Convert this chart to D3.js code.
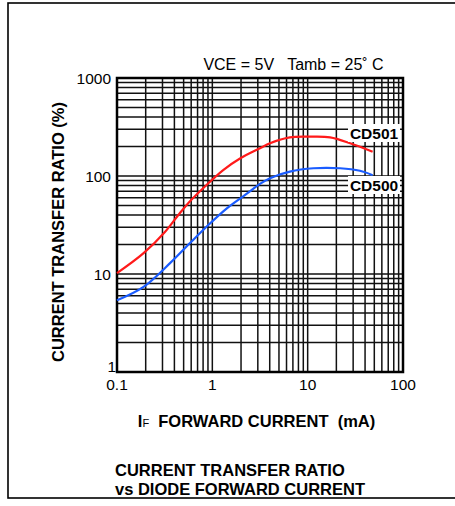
<!DOCTYPE html>
<html>
<head>
<meta charset="utf-8">
<script src="https://cdn.jsdelivr.net/npm/d3@7"></script>
<style>
  body { margin: 0; background: white; }
  text { font-family: "Liberation Sans", Arial, sans-serif; fill: black; }
</style>
</head>
<body>
<script>
// values
var cd501Current = [0.1, 0.19, 0.32, 0.44, 0.58, 0.87, 1.3, 1.95, 3.16, 4.03, 6.5, 10.6, 17.2, 27.9, 48];
var cd501Ratio   = [10.2, 16.3, 27, 40, 55, 81, 115, 151, 192, 216, 248, 252, 248, 216, 177];
var cd500Current = [0.1, 0.19, 0.36, 0.58, 0.87, 1.42, 2.3, 3.16, 4.03, 6.5, 11.5, 21.9, 35.3, 48];
var cd500Ratio   = [5.4, 7.4, 12.9, 20.6, 30.4, 46.8, 66, 83, 95, 111, 120, 120, 113, 102];
var xTicks = [0.1, 1, 10, 100];
var yTicks = [1, 10, 100, 1000];

var width = 455, height = 506;
// plot box (window.top is read-only, so no bare "top")
var plotL = 117, plotR = 403, plotT = 78, plotB = 372;

var svg = d3.select('body').append('svg').attr('width', width).attr('height', height);

// outer frame
svg.append('rect').attr('x', 8).attr('y', 3).attr('width', 460).attr('height', 495)
    .attr('fill', 'white').attr('stroke', 'black').attr('stroke-width', 1.6);

var x = d3.scaleLog().domain([0.1, 100]).range([plotL, plotR]);
var y = d3.scaleLog().domain([1, 1000]).range([plotB, plotT]);

// grid: 1..9 in every decade
function decadeLines(lo, hi) {
    var out = [];
    for (var d = lo; d < hi * 0.999; d *= 10) {
        for (var k = 1; k < 10; k++) out.push(d * k);
    }
    out.push(hi);
    return out;
}

var grid = svg.append('g').attr('stroke', '#111').attr('stroke-width', 1.5);
grid.selectAll('line.v').data(decadeLines(0.1, 100)).enter().append('line')
    .attr('class', 'v')
    .attr('x1', function (d) { return x(d); }).attr('x2', function (d) { return x(d); })
    .attr('y1', plotT).attr('y2', plotB);
grid.selectAll('line.h').data(decadeLines(1, 1000)).enter().append('line')
    .attr('class', 'h')
    .attr('y1', function (d) { return y(d); }).attr('y2', function (d) { return y(d); })
    .attr('x1', plotL).attr('x2', plotR);

svg.append('rect').attr('x', plotL).attr('y', plotT)
    .attr('width', plotR - plotL).attr('height', plotB - plotT)
    .attr('fill', 'none').attr('stroke', 'black').attr('stroke-width', 2.5);

// curves
var line = d3.line()
    .x(function (d) { return x(d[0]); })
    .y(function (d) { return y(d[1]); })
    .curve(d3.curveCatmullRom.alpha(0.5));

svg.append('path').datum(d3.zip(cd501Current, cd501Ratio))
    .attr('d', line).attr('fill', 'none').attr('stroke', '#ff1a1a').attr('stroke-width', 2.2);
svg.append('path').datum(d3.zip(cd500Current, cd500Ratio))
    .attr('d', line).attr('fill', 'none').attr('stroke', '#1a5cff').attr('stroke-width', 2.2);

// curve labels with white box behind
function curveLabel(txt, cx, cy) {
    svg.append('rect').attr('x', cx - 26).attr('y', cy - 9).attr('width', 52).attr('height', 18).attr('fill', 'white');
    svg.append('text').attr('x', cx).attr('y', cy).attr('dy', '0.36em')
        .attr('text-anchor', 'middle').attr('font-size', 15.5).attr('font-weight', 'bold').text(txt);
}
curveLabel('CD501', 374, 133);
curveLabel('CD500', 374, 185);

// tick labels
svg.selectAll('text.yt').data(yTicks).enter().append('text')
    .attr('class', 'yt')
    .attr('x', function (d) { return d == 1 ? 116 : 111; })
    .attr('y', function (d) { return d == 1 ? y(d) - 6 : y(d); })
    .attr('dy', '0.36em').attr('text-anchor', 'end').attr('font-size', 15.5)
    .text(function (d) { return d; });

svg.selectAll('text.xt').data(xTicks).enter().append('text')
    .attr('class', 'xt')
    .attr('x', function (d) { return x(d); }).attr('y', 384)
    .attr('dy', '0.36em').attr('text-anchor', 'middle').attr('font-size', 15.5)
    .text(function (d) { return d; });

// titles
svg.append('text').attr('x', 293.5).attr('y', 70).attr('text-anchor', 'middle').attr('font-size', 16)
    .attr('xml:space', 'preserve')
    .text('VCE = 5V   Tamb = 25\u02DA C');

var xl = svg.append('text').attr('x', 256.5).attr('y', 427).attr('text-anchor', 'middle')
    .attr('font-size', 16.5).attr('font-weight', 'bold').attr('xml:space', 'preserve');
xl.append('tspan').text('I');
xl.append('tspan').attr('font-size', 11).attr('font-weight', 'normal').text('F');
xl.append('tspan').text('  FORWARD CURRENT  (mA)');

svg.append('text').attr('transform', 'translate(64,232) rotate(-90)')
    .attr('text-anchor', 'middle').attr('font-size', 16.5).attr('font-weight', 'bold')
    .text('CURRENT TRANSFER RATIO (%)');

svg.append('text').attr('x', 115).attr('y', 476).attr('font-size', 16.5).attr('font-weight', 'bold')
    .text('CURRENT TRANSFER RATIO');
svg.append('text').attr('x', 115).attr('y', 495).attr('font-size', 16.5).attr('font-weight', 'bold')
    .text('vs DIODE FORWARD CURRENT');
</script>
</body>
</html>
